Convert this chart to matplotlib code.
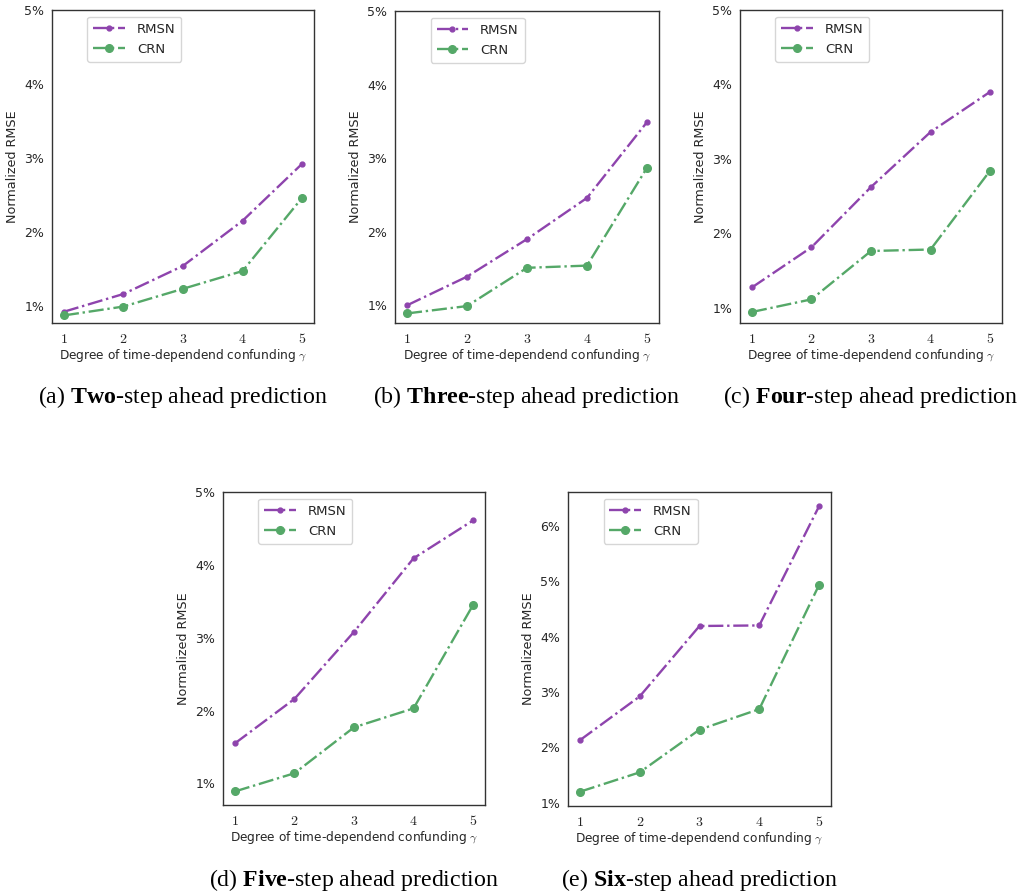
import matplotlib
matplotlib.use("Agg")
import matplotlib.pyplot as plt
import seaborn as sns
from matplotlib.ticker import MultipleLocator, FuncFormatter

sns.set_style("white")
plt.rcParams["font.family"] = ["DejaVu Sans"]
plt.rcParams["mathtext.fontset"] = "cm"
# only used by the captions (math_fontfamily="custom")
plt.rcParams["mathtext.rm"] = "Liberation Serif"
plt.rcParams["mathtext.bf"] = "Liberation Serif:bold"

gammas = [1, 2, 3, 4, 5]

# normalized RMSE in percent, per prediction horizon
rmsn_two = [0.92, 1.16, 1.54, 2.15, 2.92]
crn_two = [0.87, 0.99, 1.23, 1.47, 2.46]
rmsn_three = [1.00, 1.39, 1.90, 2.46, 3.49]
crn_three = [0.89, 0.99, 1.51, 1.54, 2.87]
rmsn_four = [1.27, 1.81, 2.62, 3.36, 3.90]
crn_four = [0.94, 1.11, 1.76, 1.78, 2.84]
rmsn_five = [1.55, 2.16, 3.08, 4.09, 4.61]
crn_five = [0.89, 1.14, 1.77, 2.03, 3.45]
rmsn_six = [2.13, 2.92, 4.19, 4.20, 6.35]
crn_six = [1.20, 1.55, 2.32, 2.69, 4.93]

panels = [
    ("(a)", "Two", rmsn_two, crn_two, 5.0),
    ("(b)", "Three", rmsn_three, crn_three, 5.0),
    ("(c)", "Four", rmsn_four, crn_four, 5.0),
    ("(d)", "Five", rmsn_five, crn_five, 5.0),
    ("(e)", "Six", rmsn_six, crn_six, None),
]

W, H = 1021, 894
# axes boxes in pixels: left, top, right, bottom
boxes = [
    (52, 10, 314, 323),
    (395, 11, 659, 323),
    (740, 10, 1002, 323),
    (223, 492, 485, 805),
    (568, 492, 831, 806),
]
caption_y = [397, 397, 397, 880, 880]

purple = "#8e44ad"
green = "#55a868"
text_col = "#262626"

fig = plt.figure(figsize=(W / 100, H / 100), dpi=100)

for (tag, word, rmsn, crn, top), (l, t, r, b), cy in zip(panels, boxes, caption_y):
    ax = fig.add_axes([l / W, 1 - b / H, (r - l) / W, (b - t) / H])
    ax.plot(gammas, rmsn, "-.", color=purple, marker="o", markersize=3.5,
            linewidth=1.7, label="RMSN")
    ax.plot(gammas, crn, "-.", color=green, marker="o", markersize=5.5,
            linewidth=1.7, label="CRN")
    if top is not None:
        ax.set_ylim(top=top)
    ax.yaxis.set_major_locator(MultipleLocator(1))
    ax.yaxis.set_major_formatter(FuncFormatter(lambda v, p: "%d%%" % round(v)))
    ax.set_xticks(gammas)
    ax.set_xticklabels(["$%d$" % g for g in gammas], fontsize=10)
    ax.tick_params(axis="y", labelsize=9, colors=text_col, pad=2)
    ax.tick_params(axis="x", colors=text_col, pad=3)
    ax.set_ylabel("Normalized RMSE", fontsize=9.2, color=text_col, labelpad=4)
    ax.set_xlabel(r"Degree of time-dependend confunding $\gamma$", fontsize=8.7,
                  color=text_col, labelpad=1)
    for sp in ax.spines.values():
        sp.set_color("#333333")
        sp.set_linewidth(1.0)
    ax.legend(loc="upper left", bbox_to_anchor=(0.11, 1.0), fontsize=9.5,
              frameon=True, handlelength=2.4, handletextpad=0.9,
              borderpad=0.45, labelspacing=0.55)
    fig.text((l + r) / 2 / W, 1 - cy / H,
             r"%s $\mathbf{%s}$-step ahead prediction" % (tag, word),
             family="Liberation Serif", math_fontfamily="custom",
             fontsize=17.2, ha="center", va="center", color="black")

fig.savefig("out.png", dpi=100)
